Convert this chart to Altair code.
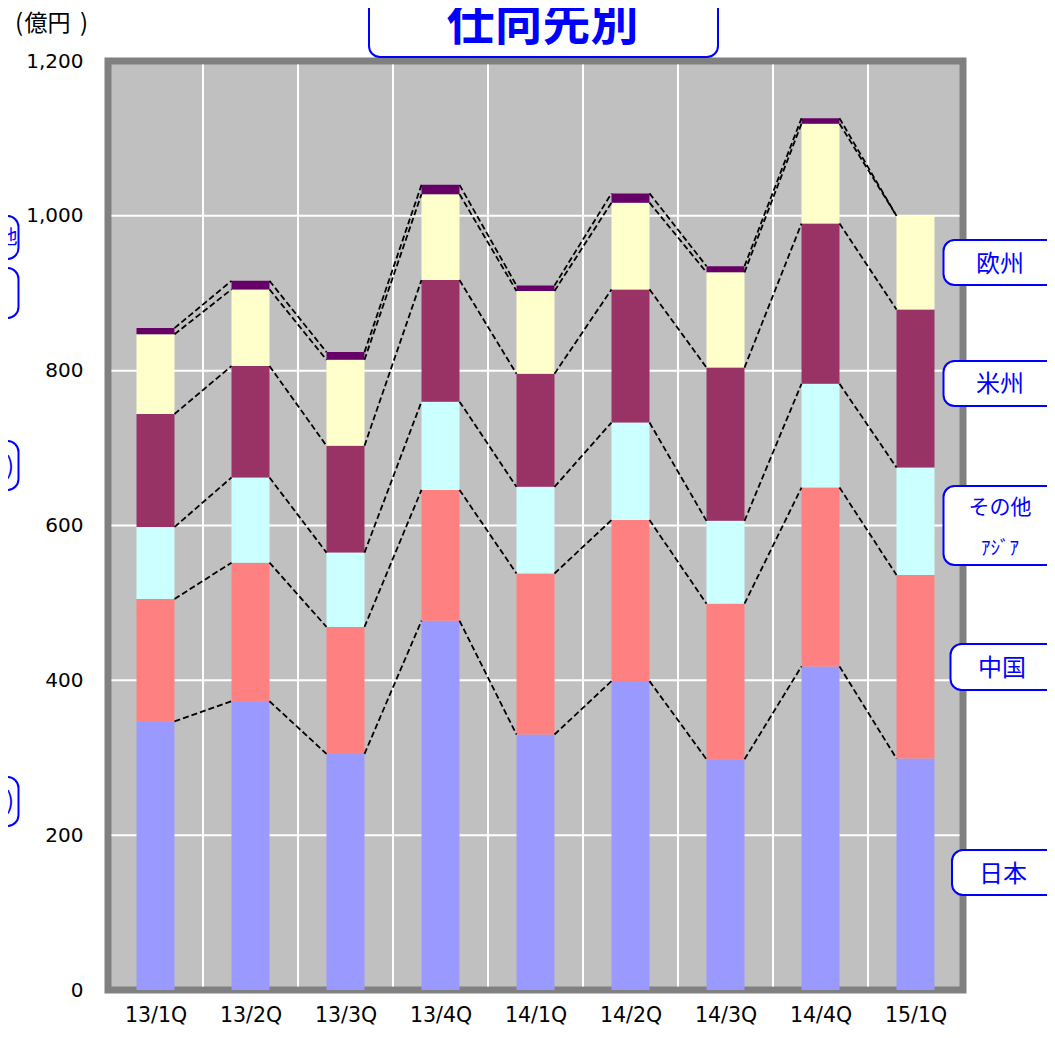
import json
import altair as alt
import pandas as pd

# ---- data (億円) ----
quarters = ["13/1Q", "13/2Q", "13/3Q", "13/4Q", "14/1Q", "14/2Q", "14/3Q", "14/4Q", "15/1Q"]
series = ["日本", "中国", "その他アジア", "米州", "欧州", "その他"]
japan = [347, 373, 305, 477, 330, 399, 298, 418, 299]
china = [158, 179, 164, 169, 208, 208, 201, 231, 237]
other_asia = [93, 110, 96, 114, 112, 126, 107, 134, 139]
americas = [146, 144, 138, 157, 146, 172, 198, 207, 204]
europe = [103, 99, 111, 111, 107, 112, 123, 129, 121]
others = [8, 11, 10, 12, 7, 12, 8, 7, 0]
y_ticks = [0, 200, 400, 600, 800, 1000, 1200]
grid_y = [200, 400, 600, 800, 1000]

colors = ["#9999FF", "#FF8080", "#CCFFFF", "#993366", "#FFFFCC", "#660066"]
values = [japan, china, other_asia, americas, europe, others]

# ---- layout constants ----
W, H = 855, 929
HALF_BAR = 0.2
NUM_FONT = "DejaVu Sans"
JP_FONT = "Noto Sans CJK JP"
BLUE = "#0000FF"

# bars
bar_rows = []
tops = {s: [] for s in series}
for i, q in enumerate(quarters):
    cum = 0
    for s, v in zip(series, values):
        lo, hi = cum, cum + v[i]
        bar_rows.append({"idx": i, "x0": i - HALF_BAR, "x1": i + HALF_BAR,
                         "lo": lo, "hi": hi, "series": s})
        tops[s].append(hi)
        cum = hi
bars_df = pd.DataFrame(bar_rows)

# dashed connector lines
line_rows = []
for s in series:
    t = tops[s]
    for i in range(len(quarters) - 1):
        line_rows.append({"x0": i + HALF_BAR, "x1": i + 1 - HALF_BAR,
                          "y0": t[i], "y1": t[i + 1], "series": s})
lines_df = pd.DataFrame(line_rows)

vgrid_df = pd.DataFrame({"gx": [i + 0.5 for i in range(len(quarters) - 1)]})
hgrid_df = pd.DataFrame({"gy": grid_y})

xscale = alt.Scale(domain=[-0.5, len(quarters) - 0.5], nice=False, zero=False)
yscale = alt.Scale(domain=[0, 1200], nice=False)

label_expr = json.dumps(quarters, ensure_ascii=False) + "[datum.value]"

x_axis = alt.Axis(values=list(range(len(quarters))), labelExpr=label_expr, title=None,
                  grid=False, ticks=False, domain=False, labelPadding=15,
                  labelFont=NUM_FONT, labelFontSize=20.5, labelColor="black",
                  labelFlush=False)
y_axis = alt.Axis(values=y_ticks, format=",d", title=None, grid=False, ticks=False,
                  domain=False, labelPadding=25, labelFont=NUM_FONT, labelFontSize=20,
                  labelColor="black")

vgrid = alt.Chart(vgrid_df).mark_rule(color="white", strokeWidth=2).encode(
    x=alt.X("gx:Q", scale=xscale, axis=x_axis),
    y=alt.value(3.5), y2=alt.value(H - 3.5))

hgrid = alt.Chart(hgrid_df).mark_rule(color="white", strokeWidth=2).encode(
    y=alt.Y("gy:Q", scale=yscale, axis=y_axis),
    x=alt.value(3.5), x2=alt.value(W - 3.5))

bars = alt.Chart(bars_df).mark_bar().encode(
    x=alt.X("x0:Q", scale=xscale, axis=x_axis),
    x2="x1:Q",
    y=alt.Y("lo:Q", scale=yscale, axis=y_axis),
    y2="hi:Q",
    color=alt.Color("series:N", scale=alt.Scale(domain=series, range=colors), legend=None),
)

dashes = alt.Chart(lines_df).mark_rule(color="black", strokeWidth=1.8, strokeDash=[6, 3]).encode(
    x=alt.X("x0:Q", scale=xscale), x2="x1:Q",
    y=alt.Y("y0:Q", scale=yscale), y2="y1:Q")

# annotation boxes (pixel coordinates relative to the plot area)
boxes_df = pd.DataFrame([
    {"bx0": 261, "bx1": 610, "by0": -101, "by1": -4},      # title
    {"bx0": 835.5, "bx1": 960, "by0": 179, "by1": 224},    # 欧州
    {"bx0": 835.5, "bx1": 960, "by0": 300, "by1": 345},    # 米州
    {"bx0": 835.5, "bx1": 960, "by0": 425, "by1": 504},    # その他アジア
    {"bx0": 842.5, "bx1": 960, "by0": 583, "by1": 629},    # 中国
    {"bx0": 844, "bx1": 960, "by0": 789, "by1": 834},      # 日本
    {"bx0": -228, "bx1": -89.5, "by0": 155, "by1": 198},
    {"bx0": -228, "bx1": -89.5, "by0": 207, "by1": 257},
    {"bx0": -228, "bx1": -89.5, "by0": 380, "by1": 429},
    {"bx0": -228, "bx1": -89.5, "by0": 716, "by1": 765},
])
boxes = alt.Chart(boxes_df).mark_rect(fill="white", stroke=BLUE, strokeWidth=2,
                                      cornerRadius=11).encode(
    x=alt.X("bx0:Q", scale=None), x2="bx1:Q",
    y=alt.Y("by0:Q", scale=None), y2="by1:Q")

labels_df = pd.DataFrame([
    {"tx": 892, "ty": 204, "t": "欧州", "sz": 24, "c": BLUE},
    {"tx": 892, "ty": 324, "t": "米州", "sz": 24, "c": BLUE},
    {"tx": 892, "ty": 447, "t": "その他", "sz": 21, "c": BLUE},
    {"tx": 892, "ty": 488, "t": "ｱｼﾞｱ", "sz": 19, "c": BLUE},
    {"tx": 894, "ty": 608, "t": "中国", "sz": 24, "c": BLUE},
    {"tx": 895, "ty": 814, "t": "日本", "sz": 24, "c": BLUE},
    {"tx": -100, "ty": 177, "t": "他", "sz": 19, "c": BLUE},
    {"tx": -98, "ty": 406, "t": ")", "sz": 24, "c": BLUE},
    {"tx": -98, "ty": 741, "t": ")", "sz": 24, "c": BLUE},
    {"tx": -89, "ty": -37, "t": "(", "sz": 24, "c": "black"},
    {"tx": -60.5, "ty": -37, "t": "億円", "sz": 23, "c": "black"},
    {"tx": -24, "ty": -37, "t": ")", "sz": 24, "c": "black"},
])
labels = alt.Chart(labels_df).mark_text(font=JP_FONT, baseline="middle", align="center").encode(
    x=alt.X("tx:Q", scale=None), y=alt.Y("ty:Q", scale=None),
    text="t:N", size=alt.Size("sz:Q", scale=None),
    color=alt.Color("c:N", scale=None))

title_df = pd.DataFrame({"tx": [434.5], "ty": [-35], "t": ["仕向先別"]})
title = alt.Chart(title_df).mark_text(font=JP_FONT, fontWeight="bold", fontSize=48,
                                      color=BLUE, baseline="middle", align="center").encode(
    x=alt.X("tx:Q", scale=None), y=alt.Y("ty:Q", scale=None), text="t:N")

chart = alt.layer(vgrid, hgrid, bars, dashes, boxes, labels, title).properties(
    width=W, height=H,
    autosize=alt.AutoSizeParams(type="none"),
    padding={"left": 100, "top": 53, "right": 84, "bottom": 36},
).configure_view(fill="#C0C0C0", stroke="#808080", strokeWidth=7)

chart.save("out.html", embed_options={"renderer": "svg", "actions": False})
